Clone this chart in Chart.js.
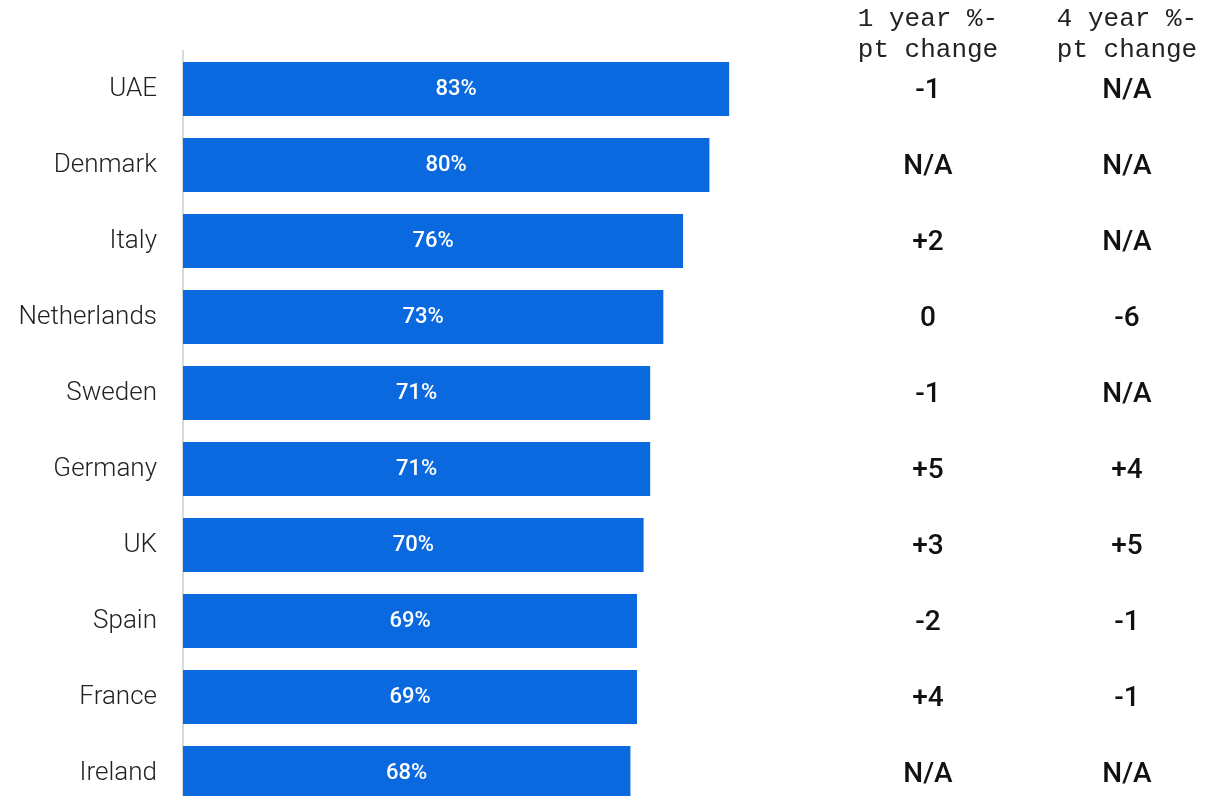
<!DOCTYPE html>
<html>
<head>
<meta charset="utf-8">
<script src="https://cdn.jsdelivr.net/npm/chart.js@4"></script>
<style>
  html, body { margin: 0; padding: 0; background: #fff; overflow: hidden; }
  canvas { display: block; }
</style>
</head>
<body>
<canvas id="chart" width="1214" height="812"></canvas>
<script>
const countries = ["UAE", "Denmark", "Italy", "Netherlands", "Sweden", "Germany", "UK", "Spain", "France", "Ireland"];
const share = [83, 80, 76, 73, 71, 71, 70, 69, 69, 68];
const change1y = ["-1", "N/A", "+2", "0", "-1", "+5", "+3", "-2", "+4", "N/A"];
const change4y = ["N/A", "N/A", "N/A", "-6", "N/A", "+4", "+5", "-1", "-1", "N/A"];
const headers = [["1 year %-", "pt change"], ["4 year %-", "pt change"]];

const BLUE = "#0a69df";

// value inside each bar + the two change columns on the right
const sideColumns = {
  id: "sideColumns",
  afterDatasetsDraw(chart) {
    const ctx = chart.ctx;
    const meta = chart.getDatasetMeta(0);
    const y = chart.scales.y;
    ctx.save();
    ctx.textAlign = "center";
    ctx.textBaseline = "middle";
    ctx.fillStyle = "#ffffff";
    ctx.font = "500 22px Roboto";
    meta.data.forEach((bar, i) => {
      ctx.fillText(share[i] + "%", (bar.x + bar.base) / 2, bar.y);
    });

    const cols = [928, 1127];
    ctx.fillStyle = "#111111";
    ctx.font = "500 28px Roboto";
    [change1y, change4y].forEach((vals, c) => {
      vals.forEach((v, i) => {
        ctx.fillText(v, cols[c], y.getPixelForValue(i) + 2);
      });
    });

    ctx.font = "26px 'Liberation Mono'";
    ctx.fillStyle = "#222222";
    headers.forEach((lines, c) => {
      lines.forEach((t, k) => {
        ctx.fillText(t, cols[c], 19 + k * 31);
      });
    });
    ctx.restore();
  }
};

new Chart(document.getElementById("chart"), {
  type: "bar",
  data: {
    labels: countries,
    datasets: [{
      data: share,
      backgroundColor: BLUE,
      categoryPercentage: 1,
      barPercentage: 0.71
    }]
  },
  options: {
    indexAxis: "y",
    responsive: false,
    animation: false,
    layout: { padding: { top: 51, right: 373, bottom: 1, left: 0 } },
    plugins: { legend: { display: false }, tooltip: { enabled: false } },
    scales: {
      x: { display: false, min: 0, max: 100 },
      y: {
        afterFit(scale) {
          scale.width = 183;
          scale.paddingTop = 0;
          scale.paddingBottom = 0;
        },
        grid: { display: false, drawTicks: false },
        border: { display: true, color: "#d9d9d9", width: 2 },
        ticks: {
          color: "#222222",
          padding: 26,
          font: { family: "Roboto", size: 26, weight: "300" }
        }
      }
    }
  },
  plugins: [sideColumns]
});
</script>
</body>
</html>
